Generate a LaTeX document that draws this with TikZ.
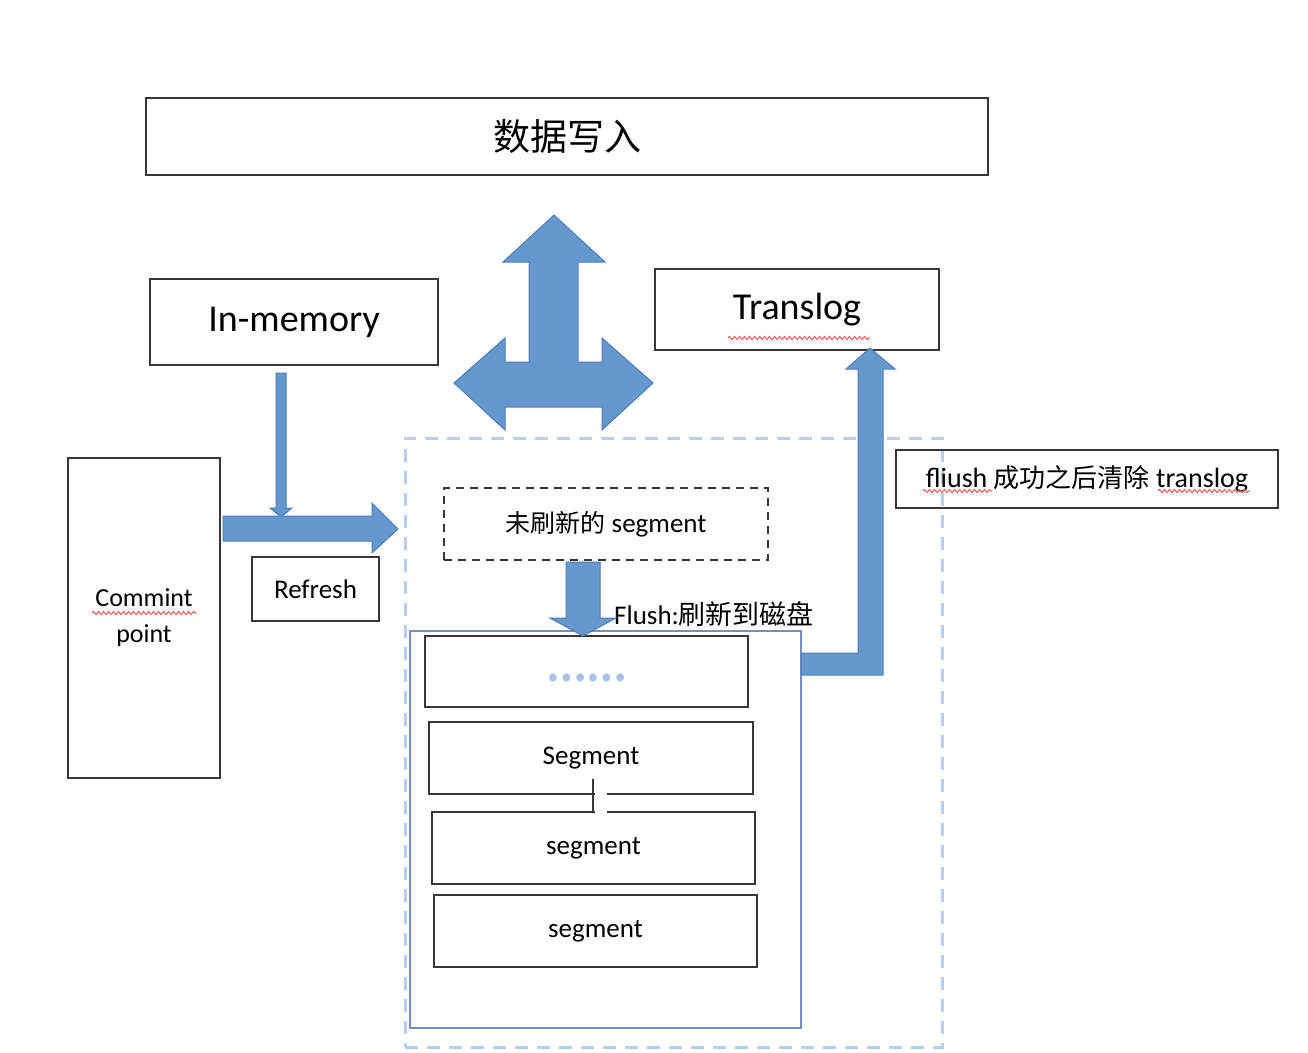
\documentclass[tikz,border=0pt]{standalone}
\usepackage{fontspec}
\setmainfont{Carlito}
\newfontfamily\cjk{Noto Sans CJK SC}
\usetikzlibrary{decorations.pathmorphing}
\definecolor{arrowblue}{RGB}{102,152,206}
\definecolor{arrowedge}{RGB}{78,125,182}
\definecolor{boxline}{RGB}{55,55,55}
\definecolor{paleblue}{RGB}{180,207,238}
\definecolor{innerline}{RGB}{115,145,192}
\definecolor{dotblue}{RGB}{165,195,230}
\definecolor{spellred}{RGB}{232,90,90}
\tikzset{
  box/.style={draw=boxline, line width=2pt, inner sep=0pt, font=\fontsize{27}{32}\selectfont},
  bigbox/.style={box, font=\fontsize{38}{44}\selectfont},
  dashbox/.style={box, dash pattern=on 8pt off 6pt},
  blockarrow/.style={fill=arrowblue, draw=arrowedge, line width=1pt},
  spell/.style={draw=spellred, line width=1pt, decorate, decoration={snake, amplitude=1.5pt, segment length=5pt}},
}
\begin{document}
\begin{tikzpicture}[x=1pt, y=-1pt]
\useasboundingbox (0,0) rectangle (1308,1052);
\node[draw=paleblue, line width=3pt, dash pattern=on 13pt off 9pt, minimum width=537pt, minimum height=609pt] (pool) at (673.5,742.5) {};
\node[draw=innerline, line width=1.5pt, minimum width=391pt, minimum height=397pt] (disk) at (605.5,829.5) {};

\node[bigbox, minimum width=842pt, minimum height=77pt] (write) at (567,136.5) {\cjk\fontsize{37}{44}\selectfont 数据写入};
\node[bigbox, minimum width=288pt, minimum height=86pt] (mem) at (294,322) {In-memory};
\node[bigbox, minimum width=284pt, minimum height=81pt] (translog) at (797,309.5) {Translog};
\node[box, minimum width=152pt, minimum height=320pt, align=center, font=\fontsize{26}{36}\selectfont] (commit) at (144,618) {Commint\\point};
\node[box, minimum width=127pt, minimum height=64pt] (refresh) at (315.5,589) {Refresh};
\node[dashbox, minimum width=324pt, minimum height=72pt] (buffer) at (606,524) {{\cjk\fontsize{25}{32}\selectfont 未刷新的} segment};
\node[box, minimum width=323pt, minimum height=71pt] (more) at (586.5,671.5) {\raisebox{0pt}[20pt][0pt]{\cjk\bfseries\fontsize{36}{40}\selectfont\color{dotblue}……}};
\node[box, minimum width=324pt, minimum height=72pt] (seg1) at (591,758) {Segment};
\node[box, minimum width=323pt, minimum height=72pt] (seg2) at (593.5,848) {segment};
\node[box, minimum width=323pt, minimum height=72pt] (seg3) at (595.5,931) {segment};
\node[box, minimum width=382pt, minimum height=58pt, font=\fontsize{28}{32}\selectfont] (clear) at (1087,479) {fliush {\cjk\fontsize{26}{32}\selectfont 成功之后清除} translog};
\node[anchor=west, inner sep=0pt, font=\fontsize{27}{32}\selectfont] (flush) at (614,614) {Flush:{\cjk\fontsize{27}{32}\selectfont 刷新到磁盘}};

\draw[blockarrow] (554,215) -- (605,262) -- (578,262) -- (578,362) -- (602,362) -- (602,338) -- (653,383) -- (602,430) -- (602,407) -- (505,407) -- (505,430) -- (454,383) -- (505,338) -- (505,362) -- (529,362) -- (529,262) -- (503,262) -- cycle;
\draw[blockarrow] (276,373) -- (286,373) -- (286,508) -- (292,508) -- (281,517) -- (270,508) -- (276,508) -- cycle;
\draw[blockarrow] (223,516) -- (372,516) -- (372,503) -- (398,529) -- (372,553) -- (372,541) -- (223,541) -- cycle;
\draw[blockarrow] (566,562) -- (600,562) -- (600,618) -- (616,618) -- (583,636) -- (550,618) -- (566,618) -- cycle;
\draw[blockarrow] (801,653) -- (858,653) -- (858,369) -- (846,369) -- (870,348) -- (895,369) -- (883,369) -- (883,675) -- (801,675) -- cycle;

\fill[white] (595,787) rectangle (607,819);
\draw[boxline, line width=2.5pt] (593,779) -- (593,812);

\draw[spell] (92,613) -- (197,613);
\draw[spell] (728,338) -- (870,338);
\draw[spell] (923,491) -- (992,491);
\draw[spell] (1158,491) -- (1250,491);
\end{tikzpicture}
\end{document}
